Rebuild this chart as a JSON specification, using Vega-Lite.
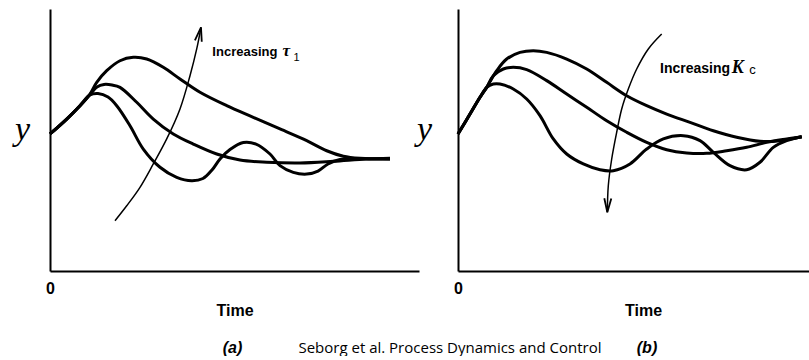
{
  "$schema": "https://vega.github.io/schema/vega-lite/v6.json",
  "background": "white",
  "padding": {"left": 14, "top": 9, "right": 0, "bottom": 0},
  "spacing": 39,
  "bounds": "flush",
  "config": {
    "view": {"stroke": null},
    "axis": {"grid": false, "ticks": false, "tickSize": 0, "domainColor": "black", "domainWidth": 2}
  },
  "title": {
    "text": "Seborg et al. Process Dynamics and Control",
    "orient": "bottom", "anchor": "start", "dx": 284, "offset": -15,
    "font": "Open Sans", "fontSize": 15, "fontWeight": "normal", "color": "black"
  },
  "datasets": {
    "leftCurves": [
      {"curve":"A","t":0,"y":1.046},{"curve":"A","t":0.453,"y":1.160},{"curve":"A","t":0.813,"y":1.262},{"curve":"A","t":1.084,"y":1.344},{"curve":"A","t":1.301,"y":1.355},{"curve":"A","t":1.572,"y":1.328},{"curve":"A","t":1.808,"y":1.262},{"curve":"A","t":2.168,"y":1.109},{"curve":"A","t":2.528,"y":0.931},{"curve":"A","t":2.981,"y":0.792},{"curve":"A","t":3.434,"y":0.715},{"curve":"A","t":3.840,"y":0.689},{"curve":"A","t":4.146,"y":0.706},{"curve":"A","t":4.390,"y":0.771},{"curve":"A","t":4.607,"y":0.855},{"curve":"A","t":4.878,"y":0.927},{"curve":"A","t":5.238,"y":0.981},{"curve":"A","t":5.583,"y":0.969},{"curve":"A","t":5.962,"y":0.893},{"curve":"A","t":6.233,"y":0.804},{"curve":"A","t":6.593,"y":0.753},{"curve":"A","t":6.957,"y":0.740},{"curve":"A","t":7.263,"y":0.763},{"curve":"A","t":7.534,"y":0.817},{"curve":"A","t":7.859,"y":0.851},{"curve":"A","t":8.266,"y":0.859},{"curve":"A","t":8.726,"y":0.855},{"curve":"A","t":9.214,"y":0.855},
      {"curve":"B","t":0,"y":1.046},{"curve":"B","t":0.453,"y":1.160},{"curve":"B","t":0.813,"y":1.262},{"curve":"B","t":1.084,"y":1.347},{"curve":"B","t":1.274,"y":1.405},{"curve":"B","t":1.463,"y":1.424},{"curve":"B","t":1.680,"y":1.420},{"curve":"B","t":1.897,"y":1.402},{"curve":"B","t":2.350,"y":1.288},{"curve":"B","t":2.799,"y":1.160},{"curve":"B","t":3.341,"y":1.046},{"curve":"B","t":3.883,"y":0.969},{"curve":"B","t":4.518,"y":0.893},{"curve":"B","t":5.149,"y":0.847},{"curve":"B","t":5.873,"y":0.830},{"curve":"B","t":6.775,"y":0.824},{"curve":"B","t":7.678,"y":0.837},{"curve":"B","t":8.583,"y":0.855},{"curve":"B","t":9.214,"y":0.860},
      {"curve":"C","t":0,"y":1.046},{"curve":"C","t":0.453,"y":1.160},{"curve":"C","t":0.813,"y":1.262},{"curve":"C","t":1.084,"y":1.351},{"curve":"C","t":1.266,"y":1.440},{"curve":"C","t":1.537,"y":1.529},{"curve":"C","t":1.897,"y":1.605},{"curve":"C","t":2.257,"y":1.631},{"curve":"C","t":2.621,"y":1.618},{"curve":"C","t":3.070,"y":1.555},{"curve":"C","t":3.523,"y":1.466},{"curve":"C","t":4.065,"y":1.364},{"curve":"C","t":4.789,"y":1.262},{"curve":"C","t":5.509,"y":1.173},{"curve":"C","t":6.233,"y":1.084},{"curve":"C","t":6.957,"y":0.995},{"curve":"C","t":7.499,"y":0.918},{"curve":"C","t":7.949,"y":0.876},{"curve":"C","t":8.401,"y":0.860},{"curve":"C","t":9.214,"y":0.855}
    ],
    "rightCurves": [
      {"curve":"A","t":0,"y":1.046},{"curve":"A","t":0.342,"y":1.198},{"curve":"A","t":0.627,"y":1.326},{"curve":"A","t":0.818,"y":1.402},{"curve":"A","t":1.006,"y":1.427},{"curve":"A","t":1.197,"y":1.427},{"curve":"A","t":1.575,"y":1.389},{"curve":"A","t":1.957,"y":1.313},{"curve":"A","t":2.336,"y":1.186},{"curve":"A","t":2.715,"y":1.008},{"curve":"A","t":3.097,"y":0.893},{"curve":"A","t":3.570,"y":0.817},{"curve":"A","t":4.046,"y":0.773},{"curve":"A","t":4.425,"y":0.766},{"curve":"A","t":4.900,"y":0.817},{"curve":"A","t":5.376,"y":0.931},{"curve":"A","t":5.849,"y":1.008},{"curve":"A","t":6.419,"y":1.033},{"curve":"A","t":6.895,"y":0.995},{"curve":"A","t":7.274,"y":0.906},{"curve":"A","t":7.749,"y":0.804},{"curve":"A","t":8.225,"y":0.773},{"curve":"A","t":8.604,"y":0.830},{"curve":"A","t":8.983,"y":0.944},{"curve":"A","t":9.365,"y":0.995},{"curve":"A","t":9.792,"y":1.025},
      {"curve":"B","t":0,"y":1.046},{"curve":"B","t":0.342,"y":1.198},{"curve":"B","t":0.627,"y":1.326},{"curve":"B","t":0.818,"y":1.402},{"curve":"B","t":1.006,"y":1.491},{"curve":"B","t":1.291,"y":1.542},{"curve":"B","t":1.575,"y":1.555},{"curve":"B","t":1.957,"y":1.537},{"curve":"B","t":2.527,"y":1.453},{"curve":"B","t":3.097,"y":1.351},{"curve":"B","t":3.667,"y":1.250},{"curve":"B","t":4.236,"y":1.147},{"curve":"B","t":4.806,"y":1.059},{"curve":"B","t":5.376,"y":0.982},{"curve":"B","t":5.946,"y":0.926},{"curve":"B","t":6.516,"y":0.901},{"curve":"B","t":7.085,"y":0.898},{"curve":"B","t":7.655,"y":0.918},{"curve":"B","t":8.225,"y":0.944},{"curve":"B","t":8.795,"y":0.982},{"curve":"B","t":9.365,"y":1.008},{"curve":"B","t":9.792,"y":1.025},
      {"curve":"C","t":0,"y":1.046},{"curve":"C","t":0.342,"y":1.198},{"curve":"C","t":0.627,"y":1.326},{"curve":"C","t":0.818,"y":1.402},{"curve":"C","t":1.103,"y":1.529},{"curve":"C","t":1.387,"y":1.618},{"curve":"C","t":1.766,"y":1.669},{"curve":"C","t":2.145,"y":1.682},{"curve":"C","t":2.527,"y":1.669},{"curve":"C","t":3.097,"y":1.618},{"curve":"C","t":3.667,"y":1.542},{"curve":"C","t":4.236,"y":1.440},{"curve":"C","t":4.806,"y":1.338},{"curve":"C","t":5.376,"y":1.262},{"curve":"C","t":5.946,"y":1.198},{"curve":"C","t":6.610,"y":1.135},{"curve":"C","t":7.274,"y":1.071},{"curve":"C","t":7.940,"y":1.021},{"curve":"C","t":8.604,"y":0.990},{"curve":"C","t":9.174,"y":0.995},{"curve":"C","t":9.792,"y":1.025}
    ],
    "leftArrow": [
      {"i":1,"t":1.762,"y":0.384},{"i":2,"t":2.079,"y":0.498},{"i":3,"t":2.439,"y":0.639},{"i":4,"t":2.799,"y":0.817},{"i":5,"t":3.163,"y":1.008},{"i":6,"t":3.523,"y":1.237},{"i":7,"t":3.794,"y":1.491},{"i":8,"t":3.976,"y":1.695},{"i":9,"t":4.092,"y":1.860}
    ],
    "rightArrow": [
      {"i":1,"t":5.803,"y":1.809},{"i":2,"t":5.422,"y":1.695},{"i":3,"t":5.091,"y":1.542},{"i":4,"t":4.852,"y":1.389},{"i":5,"t":4.664,"y":1.237},{"i":6,"t":4.521,"y":1.059},{"i":7,"t":4.379,"y":0.855},{"i":8,"t":4.282,"y":0.651},{"i":9,"t":4.254,"y":0.448}
    ]
  },
  "hconcat": [
    {
      "width": 369, "height": 262,
      "title": {"text": "(a)", "orient": "bottom", "anchor": "middle", "dx": -2, "offset": 22,
        "font": "Liberation Sans", "fontSize": 16, "fontStyle": "italic", "fontWeight": "bold", "color": "black"},
      "encoding": {
        "x": {"field": "t", "type": "quantitative", "scale": {"domain": [0, 10], "nice": false, "zero": false},
          "axis": {"title": "Time", "values": [0], "labelFlush": false, "labelFont": "Liberation Sans", "labelFontSize": 16, "labelFontWeight": "bold", "labelColor": "black", "labelPadding": 9,
            "titleFont": "Liberation Sans", "titleFontSize": 16, "titleFontWeight": "bold", "titleColor": "black", "titlePadding": 6}},
        "y": {"field": "y", "type": "quantitative", "scale": {"domain": [0, 2], "nice": false, "zero": false},
          "axis": {"title": "y", "labels": false, "titleFont": "Liberation Serif", "titleFontStyle": "italic", "titleFontWeight": "normal", "titleFontSize": 34, "titleAngle": 0, "titleAlign": "center", "titleBaseline": "alphabetic", "titleX": -28, "titleY": 130, "titleColor": "black"}}
      },
      "layer": [
        {"data": {"name": "leftCurves"}, "mark": {"type": "line", "interpolate": "catmull-rom", "strokeWidth": 3, "color": "black"}, "encoding": {"detail": {"field": "curve"}}},
        {"data": {"name": "leftArrow"}, "mark": {"type": "line", "interpolate": "catmull-rom", "strokeWidth": 1.5, "color": "black"}, "encoding": {"order": {"field": "i"}}},
        {"data": {"values": [{"t": 4.092, "y": 1.860}]}, "mark": {"type": "point", "shape": "M -0.5 2 L 0 0 L 0.5 2", "filled": false, "size": 196, "strokeWidth": 1.8, "color": "black", "opacity": 1, "angle": 11}},
        {"data": {"values": [{"t": 4.40, "y": 1.643, "label": "Increasing"}]}, "mark": {"type": "text", "align": "left", "baseline": "alphabetic", "font": "Liberation Sans", "fontSize": 13, "fontWeight": "bold", "color": "black"}, "encoding": {"text": {"field": "label"}}},
        {"data": {"values": [{"t": 6.30, "y": 1.641, "label": "τ"}]}, "mark": {"type": "text", "align": "left", "baseline": "alphabetic", "font": "Liberation Serif", "fontSize": 17, "fontStyle": "italic", "fontWeight": "bold", "color": "black"}, "encoding": {"text": {"field": "label"}}},
        {"data": {"values": [{"t": 6.60, "y": 1.603, "label": "1"}]}, "mark": {"type": "text", "align": "left", "baseline": "alphabetic", "font": "Liberation Sans", "fontSize": 11, "color": "black"}, "encoding": {"text": {"field": "label"}}}
      ]
    },
    {
      "width": 351, "height": 262,
      "title": {"text": "(b)", "orient": "bottom", "anchor": "middle", "dx": 13.5, "offset": 22,
        "font": "Liberation Sans", "fontSize": 16, "fontStyle": "italic", "fontWeight": "bold", "color": "black"},
      "encoding": {
        "x": {"field": "t", "type": "quantitative", "scale": {"domain": [0, 10], "nice": false, "zero": false},
          "axis": {"title": "Time", "values": [0], "labelFlush": false, "labelFont": "Liberation Sans", "labelFontSize": 16, "labelFontWeight": "bold", "labelColor": "black", "labelPadding": 9,
            "titleFont": "Liberation Sans", "titleFontSize": 16, "titleFontWeight": "bold", "titleColor": "black", "titlePadding": 6, "titleX": 185}},
        "y": {"field": "y", "type": "quantitative", "scale": {"domain": [0, 2], "nice": false, "zero": false},
          "axis": {"title": "y", "labels": false, "titleFont": "Liberation Serif", "titleFontStyle": "italic", "titleFontWeight": "normal", "titleFontSize": 34, "titleAngle": 0, "titleAlign": "center", "titleBaseline": "alphabetic", "titleX": -34, "titleY": 130, "titleColor": "black"}}
      },
      "layer": [
        {"data": {"name": "rightCurves"}, "mark": {"type": "line", "interpolate": "catmull-rom", "strokeWidth": 3, "color": "black"}, "encoding": {"detail": {"field": "curve"}}},
        {"data": {"name": "rightArrow"}, "mark": {"type": "line", "interpolate": "catmull-rom", "strokeWidth": 1.5, "color": "black"}, "encoding": {"order": {"field": "i"}}},
        {"data": {"values": [{"t": 4.254, "y": 0.448}]}, "mark": {"type": "point", "shape": "M -0.5 2 L 0 0 L 0.5 2", "filled": false, "size": 196, "strokeWidth": 1.8, "color": "black", "opacity": 1, "angle": 182}},
        {"data": {"values": [{"t": 5.755, "y": 1.511, "label": "Increasing"}]}, "mark": {"type": "text", "align": "left", "baseline": "alphabetic", "font": "Liberation Sans", "fontSize": 14, "fontWeight": "bold", "color": "black"}, "encoding": {"text": {"field": "label"}}},
        {"data": {"values": [{"t": 7.80, "y": 1.511, "label": "K"}]}, "mark": {"type": "text", "align": "left", "baseline": "alphabetic", "font": "Liberation Serif", "fontSize": 18, "fontStyle": "italic", "fontWeight": "bold", "color": "black"}, "encoding": {"text": {"field": "label"}}},
        {"data": {"values": [{"t": 8.30, "y": 1.504, "label": "c"}]}, "mark": {"type": "text", "align": "left", "baseline": "alphabetic", "font": "Liberation Sans", "fontSize": 13, "color": "black"}, "encoding": {"text": {"field": "label"}}}
      ]
    }
  ]
}
